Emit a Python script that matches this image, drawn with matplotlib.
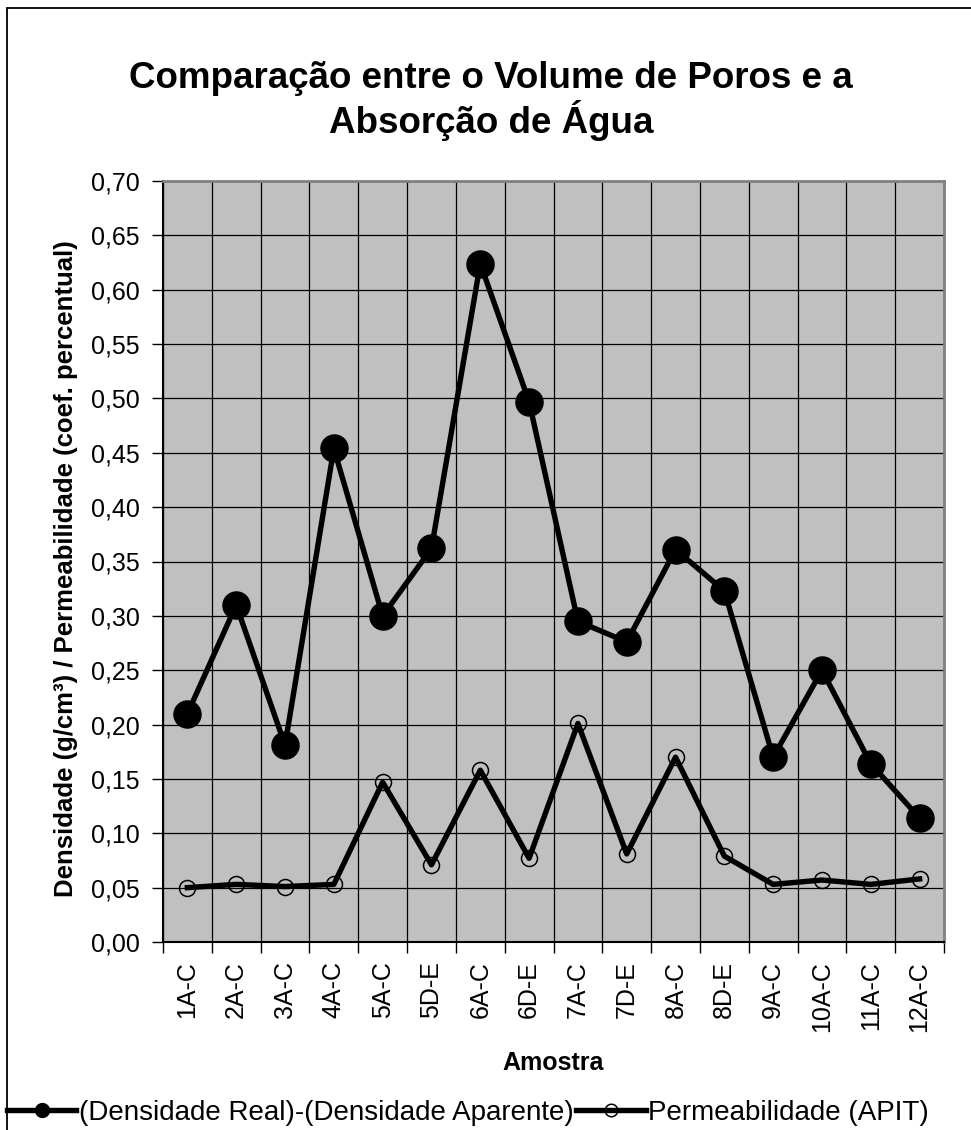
import matplotlib.pyplot as plt
import matplotlib.patches as patches
from matplotlib.ticker import FuncFormatter, FixedLocator

plt.rcParams['font.family'] = ['Liberation Sans', 'DejaVu Sans']

amostras = ['1A-C', '2A-C', '3A-C', '4A-C', '5A-C', '5D-E', '6A-C', '6D-E',
            '7A-C', '7D-E', '8A-C', '8D-E', '9A-C', '10A-C', '11A-C', '12A-C']
dif_densidade = [0.210, 0.310, 0.181, 0.454, 0.300, 0.362, 0.624, 0.497,
                 0.295, 0.276, 0.361, 0.323, 0.170, 0.250, 0.164, 0.114]
permeabilidade = [0.050, 0.053, 0.051, 0.053, 0.147, 0.071, 0.158, 0.077,
                  0.201, 0.081, 0.170, 0.079, 0.053, 0.057, 0.053, 0.058]

W, H = 971, 1130
fig = plt.figure(figsize=(W / 100, H / 100), dpi=100)

# outer chart frame (runs off the right and bottom edge)
fig.patches.append(patches.Rectangle((7 / W, -0.05), 1.2, 1 - 8 / H + 0.05,
                                     transform=fig.transFigure, fill=False,
                                     edgecolor='black', linewidth=1.3))

ax = fig.add_axes([163 / W, 1 - 942 / H, (944 - 163) / W, (942 - 181) / H])
ax.set_facecolor('#C0C0C0')

x = [i + 0.5 for i in range(len(amostras))]
ax.plot(x, dif_densidade, color='black', lw=3.9, marker='o', ms=19.5,
        mfc='black', mec='black', label='(Densidade Real)-(Densidade Aparente)', zorder=3)
ax.plot(x, permeabilidade, color='black', lw=3.9, marker='o', ms=11.5,
        mfc='none', mec='black', mew=1.1, label='Permeabilidade (APIT)', zorder=3)

ax.set_xlim(0, len(amostras))
ax.set_ylim(0, 0.70)
ax.xaxis.set_major_locator(FixedLocator(range(len(amostras) + 1)))
ax.xaxis.set_minor_locator(FixedLocator(x))
ax.set_xticklabels([], minor=False)
ax.set_xticklabels(amostras, minor=True, rotation=90, fontsize=18)
ax.tick_params(axis='x', which='major', direction='out', length=8, width=1)
ax.tick_params(axis='x', which='minor', length=0, pad=14)
ax.set_yticks([i * 0.05 for i in range(15)])
ax.yaxis.set_major_formatter(FuncFormatter(lambda v, p: f'{v:.2f}'.replace('.', ',')))
ax.tick_params(axis='y', direction='out', length=8, width=1, labelsize=18, pad=9)

ax.grid(True, which='major', color='black', lw=0.9)
ax.set_axisbelow(True)
for s in ['top', 'right']:
    ax.spines[s].set_color('#808080')
    ax.spines[s].set_linewidth(2)
ax.spines['left'].set_linewidth(1.5)
ax.spines['bottom'].set_linewidth(1.5)

ax.set_xlabel('Amostra', fontsize=18, fontweight='bold', va='center')
ax.xaxis.set_label_coords(0.5, (942 - 1063) / 761)
ax.set_ylabel('Densidade (g/cm³) / Permeabilidade (coef. percentual)',
              fontsize=18.5, fontweight='bold', va='center')
ax.yaxis.set_label_coords((66 - 163) / 781, 0.49)

fig.text(0.506, 1 - 101 / H, 'Comparação entre o Volume de Poros e a\nAbsorção de Água',
         ha='center', va='center', fontsize=26.5, fontweight='bold', linespacing=1.1)

leg = fig.legend(loc='center left', bbox_to_anchor=(7 / W, 1 - 1113 / H), ncol=2,
                 frameon=False, fontsize=20, handlelength=2.5, handletextpad=0.08,
                 columnspacing=0.1, borderpad=0, borderaxespad=0)
leg.legend_handles[0].set_markersize(10)
leg.legend_handles[1].set_markersize(9)

fig.savefig('out.png', dpi=100)
